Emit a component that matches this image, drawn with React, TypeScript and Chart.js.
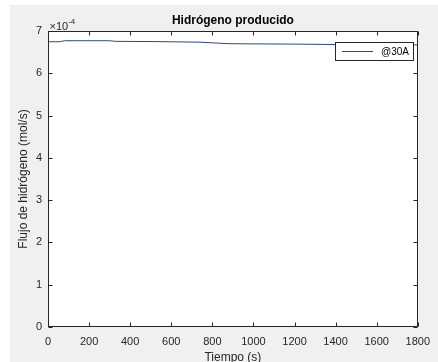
import React, { useEffect, useRef } from "react";
import { Chart, registerables } from "chart.js";

Chart.register(...registerables);

const TITLE = "Hidrógeno producido";
const X_LABEL = "Tiempo (s)";
const Y_LABEL = "Flujo de hidrógeno (mol/s)";
const SERIES_LABEL = "@30A";
const X_TICKS = [0, 200, 400, 600, 800, 1000, 1200, 1400, 1600, 1800];
const Y_TICKS = [0, 1, 2, 3, 4, 5, 6, 7];
const EXPONENT = -4;

const tiempo = [0, 60, 80, 300, 330, 520, 600, 740, 800, 880, 1000, 1200, 1400, 1600, 1800];
const flujo = [
  6.745e-4, 6.748e-4, 6.77e-4, 6.77e-4, 6.755e-4, 6.75e-4, 6.745e-4, 6.735e-4,
  6.72e-4, 6.70e-4, 6.695e-4, 6.69e-4, 6.68e-4, 6.675e-4, 6.67e-4,
];

const FONT = "'Liberation Sans', Arial, sans-serif";
const INK = "#262626";
const LINE_COLOR = "#2c4a7e";

const matlabPlugin = {
  id: "matlabDecor",
  beforeDraw(chart: any) {
    const { ctx, chartArea } = chart;
    ctx.save();
    ctx.fillStyle = "#ffffff";
    ctx.fillRect(0, 0, chart.width, chart.height);
    ctx.fillStyle = "#f0f0f0";
    ctx.fillRect(10, 5, chart.width - 10, chart.height - 5);
    ctx.fillStyle = "#ffffff";
    ctx.fillRect(chartArea.left, chartArea.top, chartArea.right - chartArea.left, chartArea.bottom - chartArea.top);
    ctx.restore();
  },
  afterDraw(chart: any) {
    const { ctx, chartArea } = chart;
    const xs = chart.scales.x;
    const ys = chart.scales.y;
    const { left, right, top, bottom } = chartArea;
    ctx.save();
    ctx.strokeStyle = INK;
    ctx.lineWidth = 1;
    const L = Math.round(left) + 0.5;
    const R = Math.round(right) - 0.5;
    const T = Math.round(top) + 0.5;
    const B = Math.round(bottom) - 0.5;
    ctx.strokeRect(L, T, R - L, B - T);
    const tl = 4;
    ctx.beginPath();
    X_TICKS.forEach((t) => {
      const px = Math.round(xs.getPixelForValue(t)) + 0.5;
      ctx.moveTo(px, B);
      ctx.lineTo(px, B - tl);
      ctx.moveTo(px, T);
      ctx.lineTo(px, T + tl);
    });
    Y_TICKS.forEach((t) => {
      const py = Math.round(ys.getPixelForValue(t * Math.pow(10, EXPONENT))) + 0.5;
      ctx.moveTo(L, py);
      ctx.lineTo(L + tl, py);
      ctx.moveTo(R, py);
      ctx.lineTo(R - tl, py);
    });
    ctx.stroke();

    // exponent label
    ctx.fillStyle = INK;
    ctx.textBaseline = "alphabetic";
    ctx.textAlign = "left";
    ctx.font = `11px ${FONT}`;
    ctx.fillText("×10", L + 1, T - 2);
    const w = ctx.measureText("×10").width;
    ctx.font = `8px ${FONT}`;
    ctx.fillText(String(EXPONENT), L + 1 + w, T - 8);

    // title
    ctx.fillStyle = "#000000";
    ctx.font = `bold 12px ${FONT}`;
    ctx.textAlign = "center";
    ctx.textBaseline = "middle";
    ctx.fillText(TITLE, (left + right) / 2, 21);

    // legend
    const ds = chart.data.datasets[0];
    const bx = 335.5, by = 42.5, bw = 78, bh = 18;
    ctx.fillStyle = "#ffffff";
    ctx.fillRect(bx, by, bw, bh);
    ctx.strokeStyle = INK;
    ctx.lineWidth = 1;
    ctx.strokeRect(bx, by, bw, bh);
    ctx.strokeStyle = ds.borderColor;
    ctx.beginPath();
    ctx.moveTo(342, by + bh / 2);
    ctx.lineTo(373, by + bh / 2);
    ctx.stroke();
    ctx.fillStyle = "#000000";
    ctx.font = `10px ${FONT}`;
    ctx.textAlign = "left";
    ctx.textBaseline = "middle";
    ctx.fillText(ds.label, 381, by + bh / 2 + 0.5);
    ctx.restore();
  },
};

export default function App() {
  const ref = useRef<HTMLCanvasElement | null>(null);
  useEffect(() => {
    document.body.style.margin = "0";
    const canvas = ref.current!;
    const chart = new Chart(canvas, {
      type: "line",
      data: {
        datasets: [
          {
            label: SERIES_LABEL,
            data: tiempo.map((t, i) => ({ x: t, y: flujo[i] })),
            borderColor: LINE_COLOR,
            borderWidth: 1,
            pointRadius: 0,
            tension: 0,
            fill: false,
          },
        ],
      },
      options: {
        animation: false,
        responsive: false,
        maintainAspectRatio: false,
        events: [],
        layout: { padding: { left: 0, top: 31, right: 14, bottom: 0 } },
        plugins: { legend: { display: false }, title: { display: false }, tooltip: { enabled: false } },
        scales: {
          x: {
            type: "linear",
            min: 0,
            max: 1800,
            afterFit: (s: any) => {
              s.height = 35;
            },
            afterBuildTicks: (s: any) => {
              s.ticks = X_TICKS.map((v) => ({ value: v }));
            },
            grid: { display: false, drawTicks: false },
            border: { display: false },
            ticks: {
              color: INK,
              font: { family: FONT, size: 11 },
              padding: 8,
              maxRotation: 0,
              autoSkip: false,
              callback: (v: any) => String(v),
            },
            title: {
              display: true,
              text: X_LABEL,
              color: INK,
              font: { family: FONT, size: 12, lineHeight: 0.8 },
              padding: { top: 0, bottom: 0 },
            },
          },
          y: {
            type: "linear",
            min: 0,
            max: 7e-4,
            afterFit: (s: any) => {
              s.width = 48;
            },
            afterBuildTicks: (s: any) => {
              s.ticks = Y_TICKS.map((v) => ({ value: v * Math.pow(10, EXPONENT) }));
            },
            grid: { display: false, drawTicks: false },
            border: { display: false },
            ticks: {
              color: INK,
              font: { family: FONT, size: 11 },
              padding: 6,
              autoSkip: false,
              callback: (v: any) => String(Math.round(Number(v) * Math.pow(10, -EXPONENT))),
            },
            title: {
              display: true,
              text: Y_LABEL,
              color: INK,
              font: { family: FONT, size: 12 },
              padding: { top: 16, bottom: 0 },
            },
          },
        },
      },
      plugins: [matlabPlugin],
    });
    return () => chart.destroy();
  }, []);
  return <canvas ref={ref} width={438} height={362} style={{ display: "block" }} />;
}
